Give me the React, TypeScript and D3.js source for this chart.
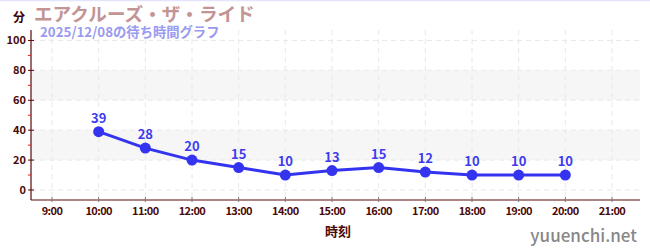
import React from "react";
import * as d3 from "d3";

const hours = [10, 11, 12, 13, 14, 15, 16, 17, 18, 19, 20];
const waits = [39, 28, 20, 15, 10, 13, 15, 12, 10, 10, 10];
const xTickHours = [9, 10, 11, 12, 13, 14, 15, 16, 17, 18, 19, 20, 21];
const yTicks = [0, 20, 40, 60, 80, 100];
const yMinorTicks = [10, 30, 50, 70, 90];
const bands = [[20, 40], [60, 80]];
const title = "エアクルーズ・ザ・ライド";
const subtitle = "2025/12/08の待ち時間グラフ";
const yUnit = "分";
const xTitle = "時刻";
const credit = "yuuenchi.net";

const W = 650, H = 250;
const left = 31, right = 640, top = 30, bottom = 200;

export default function App() {
  const x = d3.scaleLinear().domain([8.55, 21.6]).range([left, right]);
  const y = d3.scaleLinear().domain([-6.7, 107]).range([bottom, top]);
  const line = d3.line<number>().x((_, i) => x(hours[i])).y((d) => y(d));
  const font = "'Noto Sans CJK JP', 'Noto Sans', sans-serif";
  const axisColor = "#5a0a0a";
  const pts = "#3434f0";
  return (
    <svg width={W} height={H} style={{ position: "absolute", left: 0, top: 0, fontFamily: font }}>
      <rect x={0} y={0} width={W} height={H} fill="#fff" />
      <line x1={0} x2={W} y1={0.5} y2={0.5} stroke="#e4e4fa" strokeWidth={1.5} />
      {bands.map(([a, b], i) => (
        <rect key={i} x={left} width={right - left} y={y(b)} height={y(a) - y(b)} fill="#f6f6f6" />
      ))}
      {yTicks.map((t) => (
        <line key={t} x1={left} x2={right} y1={y(t)} y2={y(t)} stroke="#e8e8e8" strokeDasharray="5,4" />
      ))}
      {xTickHours.map((h) => (
        <line key={h} x1={x(h)} x2={x(h)} y1={top} y2={bottom} stroke="#e8e8e8" strokeDasharray="5,4" />
      ))}
      {/* axes */}
      <line x1={left} x2={left} y1={top} y2={bottom} stroke={axisColor} strokeWidth={1.2} />
      <line x1={left} x2={right} y1={bottom} y2={bottom} stroke={axisColor} strokeWidth={1.2} />
      {yTicks.map((t) => (
        <g key={t}>
          <line x1={left - 3} x2={left + 3} y1={y(t)} y2={y(t)} stroke={axisColor} />
          <text x={left - 5} y={y(t)} dy="0.35em" textAnchor="end" fontSize={11} fontWeight={600} fill="#4a0a0a">{t}</text>
        </g>
      ))}
      {yMinorTicks.map((t) => (
        <line key={t} x1={left - 3} x2={left} y1={y(t)} y2={y(t)} stroke="#d02020" />
      ))}
      {xTickHours.map((h) => (
        <g key={h}>
          <line x1={x(h)} x2={x(h)} y1={bottom - 3} y2={bottom + 2} stroke="#777" />
          <text x={x(h)} y={bottom + 15} textAnchor="middle" fontSize={11} fontWeight={600} fill="#4a0a0a" letterSpacing={-0.6}>{`${h}:00`}</text>
        </g>
      ))}
      <text x={338} y={236} textAnchor="middle" fontSize={13} fontWeight="bold" fill="#4a0a0a">{xTitle}</text>
      <text x={19} y={22} textAnchor="middle" fontSize={12} fontWeight="bold" fill="#3a0000">{yUnit}</text>
      <text x={34} y={21} fontSize={18.6} fontWeight="bold" fill="#c49494">{title}</text>
      <text x={40} y={37} fontSize={13.3} fontWeight="bold" fill="#9a9af0">{subtitle}</text>
      <text x={637} y={242} textAnchor="end" fontSize={17} fontWeight={500} fill="#888">{credit}</text>
      {/* series */}
      <path d={line(waits) || ""} fill="none" stroke={pts} strokeWidth={3} />
      {waits.map((v, i) => (
        <g key={i}>
          <circle cx={x(hours[i])} cy={y(v)} r={5.5} fill={pts} />
          <text x={x(hours[i])} y={y(v) - 9} textAnchor="middle" fontSize={13} fontWeight="bold" fill="#3c3cee">{v}</text>
        </g>
      ))}
    </svg>
  );
}
